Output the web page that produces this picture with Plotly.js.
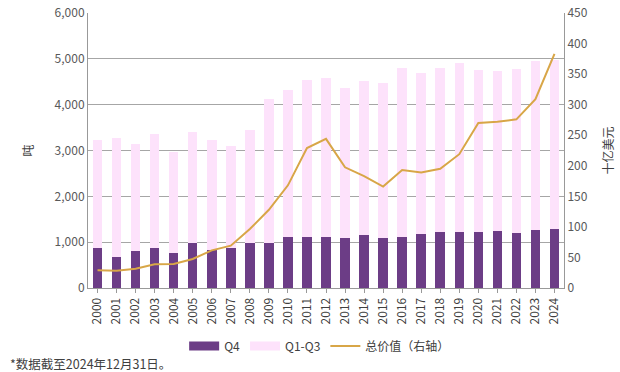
<!DOCTYPE html>
<html>
<head>
<meta charset="utf-8">
<script src="https://cdn.plot.ly/plotly-3.0.1.min.js"></script>
<style>html,body{margin:0;padding:0;background:#fff;}#chart{width:620px;height:372px;}</style>
</head>
<body>
<div id="chart"></div>
<script>
var years = ['2000','2001','2002','2003','2004','2005','2006','2007','2008','2009','2010','2011','2012','2013','2014','2015','2016','2017','2018','2019','2020','2021','2022','2023','2024'];
var q4 = [873,684,815,865,764,982,836,865,982,989,1105,1120,1105,1084,1156,1091,1120,1178,1222,1222,1222,1236,1207,1273,1280];
var totalTonnes = [3240,3265,3149,3353,2967,3396,3222,3091,3440,4131,4327,4545,4575,4356,4524,4465,4807,4698,4800,4909,4764,4727,4778,4960,4982];
var q1q3 = totalTonnes.map(function(t,i){return t - q4[i];});
var totalValue = [28.9,28.4,31.6,38.7,39.3,47.5,61.6,69.3,96.5,128,168,229,244,197.5,183,166,193,189,195,219,270,272,276,309,383];

var font = "'Noto Sans CJK SC', 'Noto Sans', sans-serif";
var cQ4 = '#6c3d86', cQ13 = '#fde2fb', cLine = '#d8a647';
var data = [
  {type:'bar', name:'Q4', x:years, y:q4, marker:{color:cQ4}, showlegend:false},
  {type:'bar', name:'Q1-Q3', x:years, y:q1q3, marker:{color:cQ13}, showlegend:false},
  {type:'scatter', mode:'lines', name:'Q4', x:[years[0]], y:[null], line:{color:cQ4, width:9}, legendrank:1},
  {type:'scatter', mode:'lines', name:'Q1-Q3', x:[years[0]], y:[null], line:{color:cQ13, width:9}, legendrank:2},
  {type:'scatter', mode:'lines', name:'总价值（右轴）', x:years, y:totalValue, yaxis:'y2', line:{color:cLine, width:2}, legendrank:3}
];
var layout = {
  width:620, height:372,
  margin:{l:88, r:56, t:13, b:84, autoexpand:false},
  barmode:'stack', bargap:0.5,
  paper_bgcolor:'#fff', plot_bgcolor:'#fff',
  font:{family:font, size:12, color:'#595959'},
  showlegend:true,
  legend:{orientation:'h', x:0.202, xanchor:'left', y:-0.211, yanchor:'middle', traceorder:'normal', font:{size:12, color:'#404040'}},
  xaxis:{type:'category', automargin:false, tickangle:-90, showline:true, linecolor:'#999', ticks:'outside', ticklen:4, tickcolor:'#999', showgrid:false, tickfont:{size:12, color:'#404040'}},
  yaxis:{automargin:false, range:[0,6000], dtick:1000, tickformat:',', showgrid:true, gridcolor:'#a6a6a6', gridwidth:1, showline:true, linecolor:'#999', zeroline:false, ticks:'', title:{text:'吨', font:{size:12, color:'#404040'}, standoff:18}},
  yaxis2:{automargin:false, overlaying:'y', side:'right', range:[0,450], dtick:50, showgrid:false, showline:true, linecolor:'#999', zeroline:false, title:{text:'十亿美元', font:{size:12, color:'#404040'}, standoff:17}},
  annotations:[{xref:'paper', yref:'paper', x:-0.168, xanchor:'left', y:-0.273, yanchor:'middle', text:'*数据截至2024年12月31日。', showarrow:false, font:{size:12.5, color:'#404040'}}]
};
Plotly.newPlot('chart', data, layout, {displayModeBar:false, staticPlot:true});
</script>
</body>
</html>
